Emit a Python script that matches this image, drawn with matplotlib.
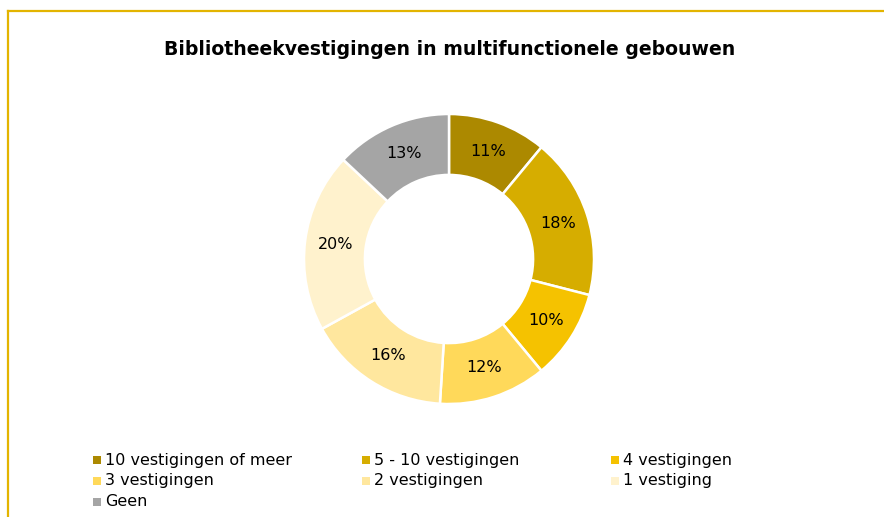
import matplotlib
matplotlib.use("Agg")
import matplotlib.pyplot as plt
from matplotlib.patches import Rectangle
from matplotlib.lines import Line2D
import numpy as np

title = "Bibliotheekvestigingen in multifunctionele gebouwen"
categories = ["10 vestigingen of meer", "5 - 10 vestigingen", "4 vestigingen",
              "3 vestigingen", "2 vestigingen", "1 vestiging", "Geen"]
values = [11, 18, 10, 12, 16, 20, 13]
colors = ["#AC8900", "#D6AD00", "#F5C200", "#FFD95A", "#FFE79E", "#FFF2CD", "#A5A5A5"]

W, H = 884, 517
fig = plt.figure(figsize=(W / 100, H / 100), dpi=100)
fig.patch.set_facecolor("white")

# frame lines (top and left)
fig.add_artist(Line2D([8 / W, 1.0], [1 - 11 / H, 1 - 11 / H], color="#E3B400", lw=1.6,
                      transform=fig.transFigure))
fig.add_artist(Line2D([8 / W, 8 / W], [0, 1 - 11 / H], color="#E3B400", lw=1.6,
                      transform=fig.transFigure))

fig.text(450 / W, 1 - 50 / H, title, ha="center", va="center",
         fontsize=13.6, fontweight="bold", family="DejaVu Sans", color="black")

cx, cy, R = 449, 259, 145
ax = fig.add_axes([(cx - R) / W, (H - cy - R) / H, 2 * R / W, 2 * R / H])

ring = 0.42
wedges, texts = ax.pie(values, colors=colors, startangle=90, counterclock=False,
                       radius=1.0, wedgeprops=dict(width=ring, edgecolor="white", linewidth=1.8))
ax.set_xlim(-1, 1)
ax.set_ylim(-1, 1)
ax.set_aspect("equal")
ax.axis("off")

total = sum(values)
cum = 0
for v in values:
    mid = 90 - (cum + v / 2) / total * 360
    cum += v
    r = 1 - ring / 2
    ax.text(r * np.cos(np.radians(mid)), r * np.sin(np.radians(mid)), f"{v}%",
            ha="center", va="center", fontsize=11.5, color="black", family="DejaVu Sans")

# legend, row-major in 3 columns
col_x = [97, 366, 615]
row_y = [460, 481, 502]
for i, (lab, c) in enumerate(zip(categories, colors)):
    r, k = divmod(i, 3)
    x, y = col_x[k], row_y[r]
    fig.patches.append(Rectangle(((x - 4) / W, 1 - (y + 4) / H), 8 / W, 8 / H,
                                 transform=fig.transFigure, facecolor=c, edgecolor="none"))
    fig.text((x + 8) / W, 1 - y / H, lab, ha="left", va="center", fontsize=11.5,
             family="DejaVu Sans", color="black")

fig.savefig("out.png", dpi=100)
